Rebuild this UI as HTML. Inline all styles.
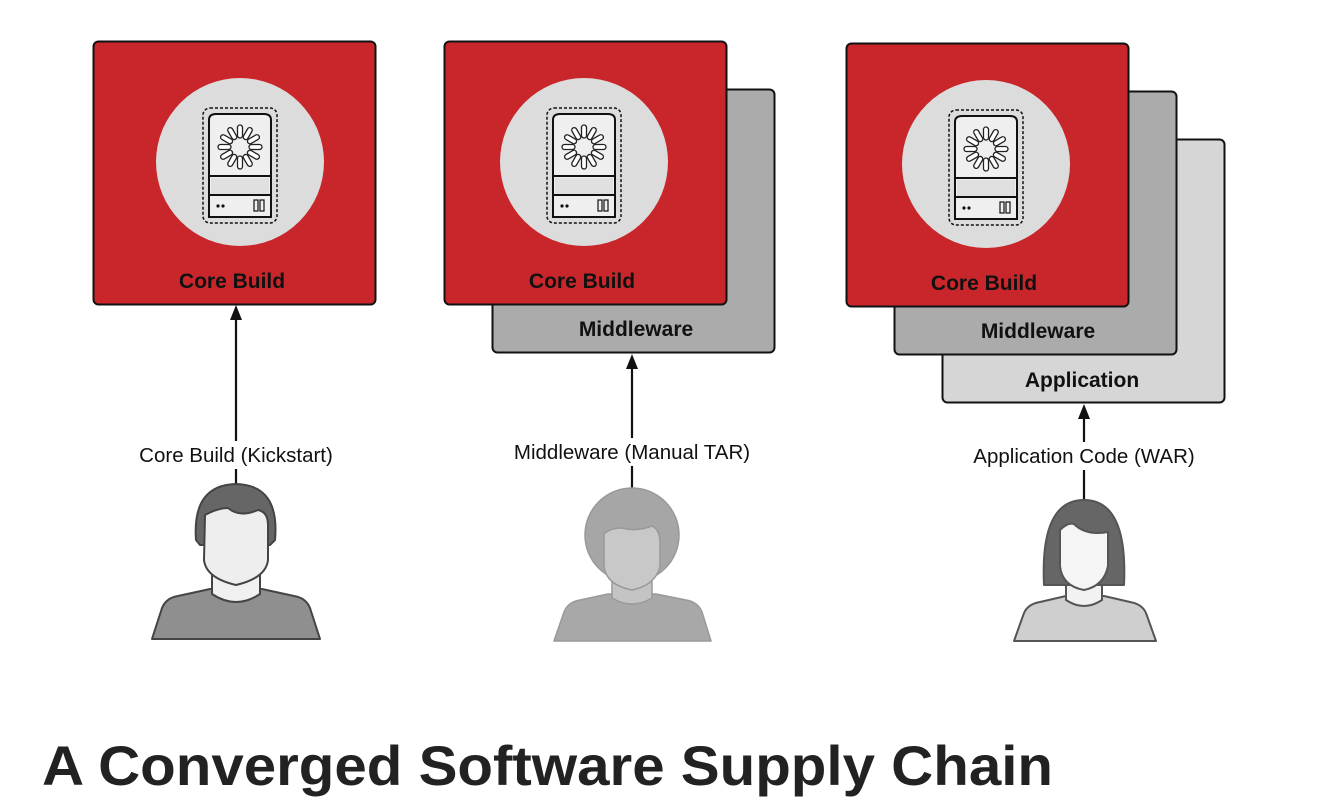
<!DOCTYPE html>
<html><head><meta charset="utf-8"><style>
html,body{margin:0;padding:0;background:#fff;}
svg{display:block;font-family:"Liberation Sans",sans-serif;}
</style></head><body>
<svg width="1322" height="808" viewBox="0 0 1322 808" xmlns="http://www.w3.org/2000/svg">
<defs>
<g id="srv">
  <circle cx="0" cy="0" r="84" fill="#dcdcdc"/>
  <rect x="-37" y="-54" width="74" height="115" rx="7" fill="none" stroke="#111" stroke-width="1.5" stroke-dasharray="3,2"/>
  <path d="M-31,-42 Q-31,-48 -24,-48 L24,-48 Q31,-48 31,-42 L31,55 L-31,55 Z" fill="#efefef" stroke="#111" stroke-width="2"/>
  <line x1="-31" y1="14" x2="31" y2="14" stroke="#111" stroke-width="2"/>
  <line x1="-31" y1="33" x2="31" y2="33" stroke="#111" stroke-width="2"/>
  <rect x="-29" y="16" width="58" height="16" fill="#e0e0e0"/>
  <circle cx="-22" cy="44" r="1.6" fill="#111"/><circle cx="-17" cy="44" r="1.6" fill="#111"/>
  <rect x="14" y="38" width="4" height="11" fill="none" stroke="#111" stroke-width="1.2"/>
  <rect x="20" y="38" width="4" height="11" fill="none" stroke="#111" stroke-width="1.2"/>
  <g stroke="#222" stroke-width="1.3" fill="#fff">
    <rect x="-2.5" y="-37" width="5" height="13" rx="2.5" transform="rotate(0 0 -15)"/>
    <rect x="-2.5" y="-37" width="5" height="13" rx="2.5" transform="rotate(30 0 -15)"/>
    <rect x="-2.5" y="-37" width="5" height="13" rx="2.5" transform="rotate(60 0 -15)"/>
    <rect x="-2.5" y="-37" width="5" height="13" rx="2.5" transform="rotate(90 0 -15)"/>
    <rect x="-2.5" y="-37" width="5" height="13" rx="2.5" transform="rotate(120 0 -15)"/>
    <rect x="-2.5" y="-37" width="5" height="13" rx="2.5" transform="rotate(150 0 -15)"/>
    <rect x="-2.5" y="-37" width="5" height="13" rx="2.5" transform="rotate(180 0 -15)"/>
    <rect x="-2.5" y="-37" width="5" height="13" rx="2.5" transform="rotate(210 0 -15)"/>
    <rect x="-2.5" y="-37" width="5" height="13" rx="2.5" transform="rotate(240 0 -15)"/>
    <rect x="-2.5" y="-37" width="5" height="13" rx="2.5" transform="rotate(270 0 -15)"/>
    <rect x="-2.5" y="-37" width="5" height="13" rx="2.5" transform="rotate(300 0 -15)"/>
    <rect x="-2.5" y="-37" width="5" height="13" rx="2.5" transform="rotate(330 0 -15)"/>
  </g>
</g>
</defs>

<!-- Box 1 -->
<rect x="93.5" y="41.5" width="282" height="263" rx="5" fill="#c8262a" stroke="#111" stroke-width="2"/>
<use href="#srv" x="240" y="162"/>
<text x="232" y="288" text-anchor="middle" font-size="21" font-weight="bold" fill="#111">Core Build</text>

<!-- Box 2 -->
<rect x="492.5" y="89.5" width="282" height="263" rx="5" fill="#ababab" stroke="#111" stroke-width="2"/>
<text x="636" y="336" text-anchor="middle" font-size="21" font-weight="bold" fill="#111">Middleware</text>
<rect x="444.5" y="41.5" width="282" height="263" rx="5" fill="#c8262a" stroke="#111" stroke-width="2"/>
<use href="#srv" x="584" y="162"/>
<text x="582" y="288" text-anchor="middle" font-size="21" font-weight="bold" fill="#111">Core Build</text>

<!-- Box 3 -->
<rect x="942.5" y="139.5" width="282" height="263" rx="5" fill="#d6d6d6" stroke="#111" stroke-width="2"/>
<text x="1082" y="387" text-anchor="middle" font-size="21" font-weight="bold" fill="#111">Application</text>
<rect x="894.5" y="91.5" width="282" height="263" rx="5" fill="#ababab" stroke="#111" stroke-width="2"/>
<text x="1038" y="338" text-anchor="middle" font-size="21" font-weight="bold" fill="#111">Middleware</text>
<rect x="846.5" y="43.5" width="282" height="263" rx="5" fill="#c8262a" stroke="#111" stroke-width="2"/>
<use href="#srv" x="986" y="164"/>
<text x="984" y="290" text-anchor="middle" font-size="21" font-weight="bold" fill="#111">Core Build</text>

<!-- Arrows -->
<g stroke="#111" stroke-width="2.2">
<line x1="236" y1="487" x2="236" y2="318"/>
<line x1="632" y1="490" x2="632" y2="367"/>
<line x1="1084" y1="500" x2="1084" y2="417"/>
</g>
<g fill="#111">
<path d="M236,305 L230,320 L242,320 Z"/>
<path d="M632,354 L626,369 L638,369 Z"/>
<path d="M1084,404 L1078,419 L1090,419 Z"/>
</g>
<g font-size="20.5" fill="#111" text-anchor="middle">
<rect x="130" y="441" width="212" height="28" fill="#fff"/>
<text x="236" y="462">Core Build (Kickstart)</text>
<rect x="504" y="438" width="256" height="28" fill="#fff"/>
<text x="632" y="459">Middleware (Manual TAR)</text>
<rect x="964" y="442" width="240" height="28" fill="#fff"/>
<text x="1084" y="463">Application Code (WAR)</text>
</g>

<!-- Person 1 (man) -->
<g stroke="#444" stroke-width="2" stroke-linejoin="round">
<path d="M152,639 L162,608 Q166,598 178,596 L210,589 L262,589 L294,596 Q306,598 310,608 L320,639 Z" fill="#8f8f8f"/>
<path d="M212,575 L212,594 Q236,610 260,594 L260,575 Z" fill="#f0f0f0"/>
<path d="M196,540 Q192,485 236,484 Q280,485 275,540 L270,545 L200,545 Z" fill="#666"/>
<path d="M205,515 Q218,508 228,508 Q240,518 258,510 Q268,512 268,525 L268,560 Q266,578 236,585 Q206,578 204,560 Z" fill="#eeeeee"/>
</g>

<!-- Person 2 -->
<g stroke="#999" stroke-width="1.5" stroke-linejoin="round">
<path d="M554,641 L564,612 Q568,602 580,600 L608,594 L656,594 L686,600 Q698,602 702,612 L711,641 Z" fill="#a8a8a8"/>
<path d="M612,580 L612,598 Q632,610 652,598 L652,580 Z" fill="#c4c4c4"/>
<circle cx="632" cy="535" r="47" fill="#a6a6a6"/>
<path d="M604,534 Q610,528 622,528 Q636,532 652,526 Q660,530 660,542 L660,566 Q656,585 632,590 Q606,585 604,566 Z" fill="#c8c8c8"/>
</g>

<!-- Person 3 (woman) -->
<g stroke="#555" stroke-width="2" stroke-linejoin="round">
<path d="M1014,641 L1024,613 Q1028,604 1040,602 L1066,596 L1104,596 L1130,602 Q1142,604 1146,613 L1156,641 Z" fill="#cfcfcf"/>
<path d="M1066,585 L1066,600 Q1084,612 1102,600 L1102,585 Z" fill="#f2f2f2"/>
<path d="M1044,585 Q1040,500 1084,500 Q1128,500 1124,585 Z" fill="#666"/>
<path d="M1060,530 Q1068,522 1074,524 Q1086,536 1108,532 L1108,566 Q1104,586 1084,590 Q1062,586 1060,566 Z" fill="#f5f5f5"/>
</g>

<!-- Title -->
<text x="42" y="785" font-size="56" font-weight="bold" fill="#222" textLength="1011" lengthAdjust="spacingAndGlyphs">A Converged Software Supply Chain</text>
</svg>
</body></html>
